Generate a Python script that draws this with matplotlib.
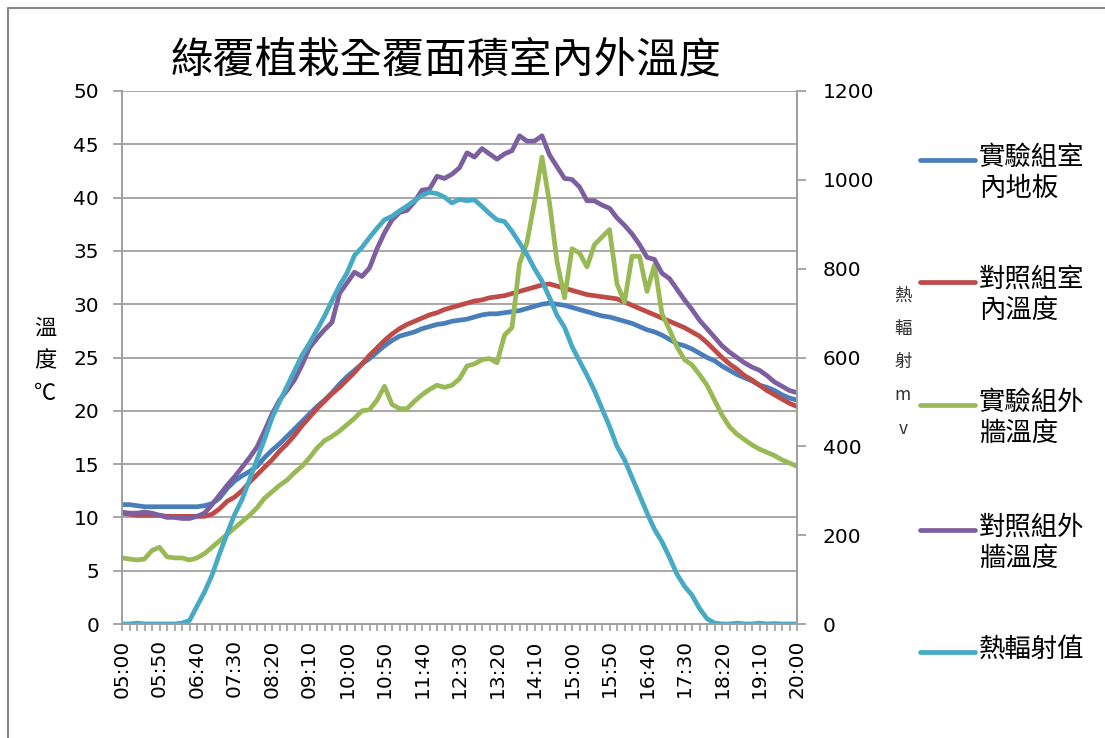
import matplotlib
matplotlib.use('Agg')
import matplotlib.pyplot as plt
from matplotlib.lines import Line2D

plt.rcParams['font.family'] = ['Noto Sans CJK TC', 'DejaVu Sans']

# 05:00 - 20:00, every 10 minutes
times = ['%02d:%02d' % (5 + (10 * k) // 60, (10 * k) % 60) for k in range(91)]

# 實驗組室內地板
floor_exp = [11.2, 11.2, 11.1, 11.0, 11.0, 11.0, 11.0, 11.0, 11.0, 11.0,
             11.0, 11.1, 11.3, 11.8, 12.7, 13.4, 13.9, 14.3, 14.8, 15.6,
             16.3, 16.9, 17.6, 18.3, 19.0, 19.7, 20.4, 21.0, 21.7, 22.5,
             23.2, 23.8, 24.4, 24.9, 25.5, 26.1, 26.6, 27.0, 27.2, 27.4,
             27.7, 27.9, 28.1, 28.2, 28.4, 28.5, 28.6, 28.8, 29.0, 29.1,
             29.1, 29.2, 29.3, 29.4, 29.6, 29.8, 30.0, 30.1, 30.0, 29.9,
             29.7, 29.5, 29.3, 29.1, 28.9, 28.8, 28.6, 28.4, 28.2, 27.9,
             27.6, 27.4, 27.1, 26.7, 26.3, 26.1, 25.8, 25.4, 25.0, 24.7,
             24.2, 23.8, 23.4, 23.1, 22.8, 22.4, 22.2, 21.9, 21.5, 21.2,
             21.0]
# 對照組室內溫度
room_ctl = [10.4, 10.3, 10.2, 10.2, 10.2, 10.2, 10.1, 10.1, 10.1, 10.1,
            10.1, 10.1, 10.3, 10.8, 11.5, 11.9, 12.5, 13.3, 14.0, 14.7,
            15.4, 16.2, 16.9, 17.7, 18.6, 19.4, 20.2, 20.9, 21.6, 22.2,
            22.9, 23.6, 24.4, 25.2, 25.9, 26.6, 27.2, 27.7, 28.1, 28.4,
            28.7, 29.0, 29.2, 29.5, 29.7, 29.9, 30.1, 30.3, 30.4, 30.6,
            30.7, 30.8, 31.0, 31.2, 31.4, 31.6, 31.8, 31.9, 31.7, 31.5,
            31.3, 31.1, 30.9, 30.8, 30.7, 30.6, 30.5, 30.2, 29.9, 29.6,
            29.3, 29.0, 28.7, 28.4, 28.1, 27.8, 27.4, 27.0, 26.4, 25.7,
            25.0, 24.4, 23.9, 23.3, 22.9, 22.4, 21.9, 21.5, 21.1, 20.7,
            20.4]
# 實驗組外牆溫度
wall_exp = [6.2, 6.1, 6.0, 6.1, 6.9, 7.2, 6.3, 6.2, 6.2, 6.0,
            6.2, 6.6, 7.2, 7.8, 8.4, 9.0, 9.6, 10.2, 10.9, 11.8,
            12.4, 13.0, 13.5, 14.2, 14.8, 15.6, 16.5, 17.2, 17.6, 18.1,
            18.7, 19.3, 20.0, 20.1, 21.0, 22.3, 20.6, 20.2, 20.2, 20.9,
            21.5, 22.0, 22.4, 22.2, 22.4, 23.0, 24.2, 24.4, 24.8, 24.9,
            24.5, 27.1, 27.8, 33.8, 35.8, 39.6, 43.8, 39.5, 34.0, 30.6,
            35.2, 34.8, 33.5, 35.6, 36.3, 37.0, 31.9, 30.2, 34.5, 34.5,
            31.2, 33.7, 29.1, 27.6, 26.0, 24.8, 24.3, 23.4, 22.4, 21.0,
            19.6, 18.5, 17.8, 17.3, 16.8, 16.4, 16.1, 15.8, 15.4, 15.1,
            14.8]
# 對照組外牆溫度
wall_ctl = [10.5, 10.4, 10.4, 10.5, 10.4, 10.2, 10.0, 10.0, 9.9, 9.9,
            10.1, 10.4, 11.2, 12.1, 13.0, 13.8, 14.7, 15.6, 16.6, 18.1,
            19.7, 21.0, 21.9, 22.9, 24.3, 25.9, 26.8, 27.6, 28.3, 31.0,
            32.0, 33.0, 32.6, 33.4, 35.2, 36.7, 37.9, 38.6, 38.8, 39.6,
            40.7, 40.8, 42.0, 41.8, 42.2, 42.8, 44.2, 43.8, 44.6, 44.1,
            43.6, 44.1, 44.4, 45.8, 45.3, 45.3, 45.8, 44.0, 42.9, 41.8,
            41.7, 41.0, 39.7, 39.7, 39.3, 39.0, 38.1, 37.4, 36.6, 35.6,
            34.4, 34.2, 32.9, 32.4, 31.4, 30.4, 29.5, 28.5, 27.7, 26.9,
            26.1, 25.5, 25.0, 24.5, 24.1, 23.8, 23.3, 22.7, 22.3, 21.9,
            21.7]
# 熱輻射值 (mV)
radiation = [0, 0, 2, 0, 0, 0, 0, 0, 2, 8,
             40, 72, 110, 158, 203, 246, 280, 325, 370, 416,
             464, 500, 535, 570, 605, 632, 662, 693, 728, 762,
             790, 830, 848, 870, 891, 910, 918, 930, 941, 953,
             965, 972, 969, 961, 948, 956, 953, 955, 940, 924,
             910, 906, 884, 858, 832, 800, 772, 735, 695, 668,
             625, 592, 560, 525, 485, 445, 400, 370, 330, 290,
             250, 213, 185, 150, 112, 85, 65, 35, 12, 2,
             0, 0, 2, 0, 0, 2, 0, 1, 0, 0,
             0]

temp_series = [
    ('實驗組室\n內地板', floor_exp, '#4a7ebb'),
    ('對照組室\n內溫度', room_ctl, '#be4b48'),
    ('實驗組外\n牆溫度', wall_exp, '#98b954'),
    ('對照組外\n牆溫度', wall_ctl, '#7d5fa0'),
]
rad_name = '熱輻射值'
rad_color = '#46aac5'

W, H = 1105, 738
fig = plt.figure(figsize=(W / 100, H / 100), dpi=100)
ax = fig.add_axes([122 / W, 1 - 624 / H, (797 - 122) / W, (624 - 91) / H])
ax2 = ax.twinx()

x = list(range(len(times)))
lw = 3.4
for name, vals, col in temp_series:
    ax.plot(x, vals, color=col, lw=lw, solid_capstyle='round')
ax2.plot(x, radiation, color=rad_color, lw=lw, solid_capstyle='round')

grid_col = '#a0a0a0'
ax.set_xlim(0, len(times) - 1)
ax.set_ylim(0, 50)
ax.set_yticks(range(0, 51, 5))
ax2.set_ylim(0, 1200)
ax2.set_yticks(range(0, 1201, 200))
ax.yaxis.grid(True, color=grid_col, lw=1.3)
ax.set_axisbelow(True)

ax.set_xticks(x, minor=True)
ax.set_xticks(x[::5])
ax.set_xticklabels(times[::5], rotation=90, family='DejaVu Sans', fontsize=14.5)
ax.tick_params(axis='x', which='both', length=5, width=1.2, color=grid_col, pad=6)
ax.tick_params(axis='y', length=6.5, width=1.3, color=grid_col, labelsize=14.5, pad=10)
ax2.tick_params(axis='y', length=6.5, width=1.3, color=grid_col, labelsize=14.5, pad=12)
for lab in ax.get_yticklabels() + ax2.get_yticklabels():
    lab.set_family('DejaVu Sans')

for a in (ax, ax2):
    a.spines['top'].set_visible(False)
    for s in ('left', 'right', 'bottom'):
        a.spines[s].set_color(grid_col)
        a.spines[s].set_linewidth(1.3)

fig.text(446 / W, 1 - 60 / H, '綠覆植栽全覆面積室內外溫度', fontsize=30.5,
         ha='center', va='center')
fig.text(45 / W, 1 - 361 / H, '溫\n度\n℃', fontsize=16, ha='center',
         va='center', linespacing=1.55)
fig.text(903 / W, 1 - 362 / H, '熱\n輻\n射\nm\nv', fontsize=12.5, ha='center',
         va='center', linespacing=2.1, color='#333333')

# legend
leg_y = [160, 282, 405, 530, 652]
entries = [(n, c) for n, v, c in temp_series] + [(rad_name, rad_color)]
for (name, col), yy in zip(entries, leg_y):
    fig.add_artist(Line2D([920 / W, 975 / W], [1 - yy / H, 1 - yy / H],
                          color=col, lw=lw, solid_capstyle='round'))
    fig.text(979 / W, 1 - (yy - 16) / H, name, fontsize=19, ha='left',
             va='top', linespacing=1.2)

# chart frame
fig.add_artist(Line2D([8 / W, 8 / W, 1.0], [0, 1 - 8 / H, 1 - 8 / H],
                      color='#888888', lw=1.5))

fig.savefig('out.png', dpi=100)
